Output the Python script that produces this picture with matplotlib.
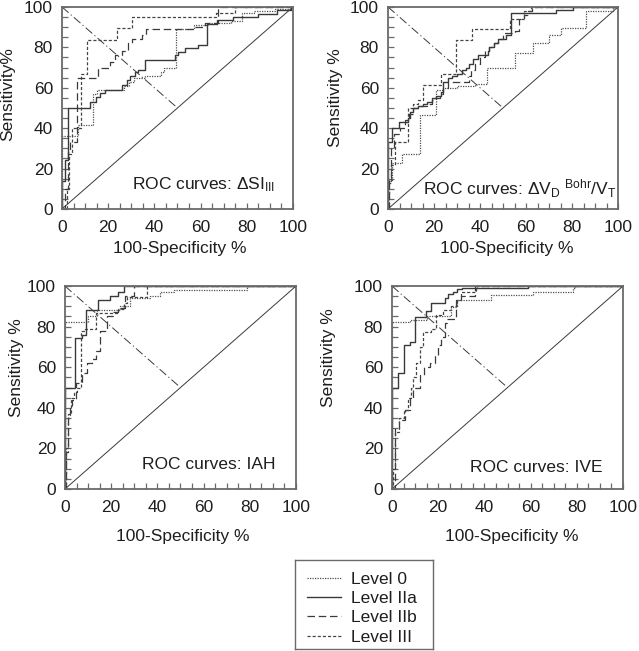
"""
ROC curves for four indices, drawn as 2x2 panels with a shared legend.
"""
import matplotlib
matplotlib.use('Agg')
import matplotlib.pyplot as plt
from matplotlib.ticker import MultipleLocator

plt.rcParams['font.family'] = ['Liberation Sans', 'DejaVu Sans']
plt.rcParams['mathtext.default'] = 'regular'

LEVELS = ['Level 0', 'Level IIa', 'Level IIb', 'Level III']

# ROC points (100-specificity %, sensitivity %), drawn as post-steps
# panel 1: delta SI_III
SI_L0_FPR = [0, 0, 7, 13.6, 15, 27, 29, 31, 36, 43, 44, 49.5, 57, 63, 73, 78, 83, 92, 100]
SI_L0_TPR = [0, 36, 41.5, 57, 59, 61, 63, 65, 66, 68, 70, 89, 91, 92, 93, 97, 98, 99, 100]
SI_IIA_FPR = [0, 0, 1.5, 2.5, 12.1, 14.9, 16.5, 18.6, 25.8, 28, 29.4, 31.6, 33, 36, 49, 50.4, 53.2, 59,
              62.6, 67, 74, 85, 93, 99, 100]
SI_IIA_TPR = [0, 14, 24, 50, 53, 55.6, 57.3, 58.9, 61.4, 63.9, 66, 68, 69, 73.7, 76.2, 77.9, 79.5, 81.2,
              91.6, 93.5, 95, 96.5, 98.5, 100, 100]
SI_IIB_FPR = [0, 1.5, 2.5, 3.5, 6.4, 15.7, 20.8, 23, 26, 28.7, 30.5, 34.5, 36.5, 57, 62, 67.5, 100]
SI_IIB_TPR = [0, 10, 28, 33, 65, 70, 73, 76, 78, 82, 84, 86, 89, 90, 92, 100, 100]
SI_III_FPR = [0, 2, 3, 4.5, 8.1, 10.7, 23.7, 30.2, 66.5, 75, 100]
SI_III_TPR = [0, 10, 27, 40, 67, 83.7, 89.4, 94.9, 97, 100, 100]

# panel 2: delta VD Bohr / VT
VD_L0_FPR = [0, 0, 1.7, 6.2, 14, 21, 24, 30, 38, 43, 55, 63, 70, 75, 86, 98, 100]
VD_L0_TPR = [0, 14, 22.6, 27, 46.5, 59, 60, 61, 62, 70, 77, 82, 86, 89.5, 98, 100, 100]
VD_IIA_FPR = [0, 0, 1.7, 4.6, 8.6, 9.5, 11, 13, 15, 17, 19, 21, 23, 24, 26, 28, 30, 32, 34, 35, 37, 39,
              43.3, 44, 46, 48, 51.3, 53.5, 73, 80.5, 100]
VD_IIA_TPR = [0, 33, 40, 43, 45, 48, 50, 51, 52, 53, 55, 56, 58, 63, 65, 66, 67, 69, 70, 72, 74, 76,
              78, 80, 82, 84, 86, 97, 98.5, 100, 100]
VD_IIB_FPR = [0, 0.5, 1.5, 2.5, 5, 7.5, 9, 11, 14, 17, 19, 21, 22.5, 24, 26, 35, 36, 38, 40, 42, 44, 46,
              48, 50, 55, 57, 59, 61, 62.5, 100]
VD_IIB_TPR = [0, 15, 30, 37, 40, 44, 47, 50, 51, 52, 54, 55, 57, 60, 62.7, 66, 69, 72, 75, 78, 80, 82,
              84, 87, 88, 94, 96, 98, 100, 100]
VD_III_FPR = [0, 0.5, 1.5, 3, 8.5, 11, 13, 15.4, 23, 29.5, 36.5, 53, 59, 62, 100]
VD_III_TPR = [0, 13, 22, 33, 50, 52, 54, 61.4, 67, 83.7, 89, 94, 98, 100, 100]

# panel 3: IAH
IAH_L0_FPR = [0, 0, 10, 14, 24, 28, 37, 41, 47, 79, 100]
IAH_L0_TPR = [0, 82.5, 85, 88, 90, 94, 95, 97, 98, 100, 100]
IAH_IIA_FPR = [0, 0, 4.5, 7.2, 9.3, 14.4, 19.5, 23, 25.5, 100]
IAH_IIA_TPR = [0, 50, 74.5, 76, 88, 93, 95, 97, 100, 100]
IAH_IIB_FPR = [0, 0.5, 1.5, 2, 3, 4.8, 7.2, 9.4, 11.5, 13.5, 15.2, 18, 21, 23, 26, 30, 100]
IAH_IIB_TPR = [0, 18, 35, 40, 44, 52, 57, 62, 64, 68, 78, 85, 87, 89, 95, 100, 100]
IAH_III_FPR = [0, 0.5, 1.5, 2.5, 4, 5, 7, 8.5, 13.5, 23, 25.5, 27, 35.5, 100]
IAH_III_TPR = [0, 20, 37, 45, 48, 50, 78, 79, 86.5, 88.5, 91.5, 94.4, 100, 100]

# panel 4: IVE
IVE_L0_FPR = [0, 0, 7.6, 15, 25.7, 28, 43, 61, 78.4, 79, 100]
IVE_L0_TPR = [0, 82.4, 83.3, 85.2, 89.8, 93, 95.6, 97.2, 98.8, 100, 100]
IVE_IIA_FPR = [0, 0, 2.6, 5, 7.6, 9.8, 14.6, 17, 22.8, 24.2, 26.4, 28, 30.5, 59, 100]
IVE_IIA_TPR = [0, 50, 57, 70.9, 72.6, 84.6, 87.8, 91.5, 93.9, 96, 97.2, 98.4, 99, 100, 100]
IVE_IIB_FPR = [0, 1.2, 1.2, 3, 5.5, 7.6, 9, 12, 14, 16.3, 18.5, 20, 21.4, 22.8, 24, 27.8, 30, 36, 100]
IVE_IIB_TPR = [0, 6, 30, 34, 39, 45, 50, 56, 60, 62, 66, 71, 75, 81.6, 84, 93, 95, 100, 100]
IVE_III_FPR = [0, 0.5, 1.5, 3, 5, 7, 8, 9, 10.5, 12, 13.4, 17, 19, 22, 25.7, 28, 30, 36.5, 37, 100]
IVE_III_TPR = [0, 10, 28, 35, 39, 45, 50, 55, 62, 70, 77.5, 79, 85.7, 88.2, 90, 93, 97, 99, 100, 100]

# chance line and the (0,100)-(50,50) guide
DIAG_X = [0, 100]
DIAG_Y = [0, 100]
GUIDE_X = [0, 50]
GUIDE_Y = [100, 50]

LINE_COLOR = '#3a3a3a'
SPINE_COLOR = '#6a6a6a'
TEXT_COLOR = '#1e1e1e'

STYLES = {
    'Level 0': dict(linestyle=(0, (1.0, 1.0)), linewidth=0.9, color='#505050'),
    'Level IIa': dict(linestyle='-', linewidth=1.0, color=LINE_COLOR),
    'Level IIb': dict(linestyle=(0, (6, 3)), linewidth=0.9, color=LINE_COLOR),
    'Level III': dict(linestyle=(0, (2.5, 1.6)), linewidth=0.9, color='#444444'),
}


def draw_panel(ax, curves, title, title_pos, ylabel, ylab_xy, xlab_xy):
    ax.plot(DIAG_X, DIAG_Y, color=LINE_COLOR, linewidth=0.7)
    ax.plot(GUIDE_X, GUIDE_Y, color=LINE_COLOR, linewidth=0.7,
            linestyle=(0, (9, 3, 1.2, 3)))
    handles = []
    for name, (fpr, tpr) in zip(LEVELS, curves):
        h, = ax.plot(fpr, tpr, drawstyle='steps-post', label=name, **STYLES[name])
        handles.append(h)

    ax.set_xlim(0, 100)
    ax.set_ylim(0, 100)
    ax.xaxis.set_major_locator(MultipleLocator(20))
    ax.yaxis.set_major_locator(MultipleLocator(20))
    ax.xaxis.set_minor_locator(MultipleLocator(5))
    ax.yaxis.set_minor_locator(MultipleLocator(5))
    ax.tick_params(which='both', direction='in', length=4, width=0.9,
                   color=SPINE_COLOR, top=False, right=False)
    ax.tick_params(which='major', labelsize=12.5, labelcolor=TEXT_COLOR)
    ax.tick_params(axis='x', which='major', pad=8)
    ax.tick_params(axis='y', which='major', pad=6.5)
    for s in ax.spines.values():
        s.set_color(SPINE_COLOR)
        s.set_linewidth(1.3)

    ax.set_xlabel('100-Specificity %', fontsize=12.5, color=TEXT_COLOR)
    ax.set_ylabel(ylabel, fontsize=12.5, color=TEXT_COLOR)
    ax.xaxis.set_label_coords(*xlab_xy)
    ax.yaxis.set_label_coords(*ylab_xy)
    ax.xaxis.label.set_verticalalignment('center')
    ax.yaxis.label.set_verticalalignment('center')

    ax.text(title_pos[0], title_pos[1], title, transform=ax.transAxes,
            ha='right', va='center', fontsize=12.5, color=TEXT_COLOR)
    return handles


fig = plt.figure(figsize=(6.39, 6.51), dpi=100)
fig.patch.set_facecolor('white')

ax1 = fig.add_axes([0.0970, 0.6790, 0.3615, 0.3103])
ax2 = fig.add_axes([0.6072, 0.6790, 0.3600, 0.3103])
ax3 = fig.add_axes([0.1017, 0.2488, 0.3615, 0.3118])
ax4 = fig.add_axes([0.6135, 0.2488, 0.3615, 0.3118])

handles = draw_panel(
    ax1,
    [(SI_L0_FPR, SI_L0_TPR), (SI_IIA_FPR, SI_IIA_TPR),
     (SI_IIB_FPR, SI_IIB_TPR), (SI_III_FPR, SI_III_TPR)],
    r'ROC curves: ΔSI$_{\mathregular{III}}$', (0.92, 0.12),
    'Sensitivity%', (-0.234, 0.57), (0.51, -0.198))
draw_panel(
    ax2,
    [(VD_L0_FPR, VD_L0_TPR), (VD_IIA_FPR, VD_IIA_TPR),
     (VD_IIB_FPR, VD_IIB_TPR), (VD_III_FPR, VD_III_TPR)],
    r'ROC curves: ΔV$_{\mathregular{D}}$ $^{\mathregular{Bohr}}$/V$_{\mathregular{T}}$', (0.995, 0.10),
    'Sensitivity %', (-0.230, 0.55), (0.517, -0.198))
draw_panel(
    ax3,
    [(IAH_L0_FPR, IAH_L0_TPR), (IAH_IIA_FPR, IAH_IIA_TPR),
     (IAH_IIB_FPR, IAH_IIB_TPR), (IAH_III_FPR, IAH_III_TPR)],
    'ROC curves: IAH', (0.91, 0.12),
    'Sensitivity %', (-0.208, 0.596), (0.51, -0.236))
draw_panel(
    ax4,
    [(IVE_L0_FPR, IVE_L0_TPR), (IVE_IIA_FPR, IVE_IIA_TPR),
     (IVE_IIB_FPR, IVE_IIB_TPR), (IVE_III_FPR, IVE_III_TPR)],
    'ROC curves: IVE', (0.913, 0.105),
    'Sensitivity %', (-0.277, 0.645), (0.52, -0.236))

# legend in its own framed box
lax = fig.add_axes([0.4617, 0.0031, 0.2159, 0.1367])
lax.set_xticks([])
lax.set_yticks([])
for s in lax.spines.values():
    s.set_color(SPINE_COLOR)
    s.set_linewidth(1.0)
lax.legend(handles=handles, loc='upper left', frameon=False, fontsize=12.5,
           handlelength=2.0, handletextpad=0.58, labelspacing=0.24,
           borderaxespad=0.0, borderpad=0.67, labelcolor=TEXT_COLOR)

fig.savefig('out.png', dpi=100, facecolor='white')
plt.close(fig)
